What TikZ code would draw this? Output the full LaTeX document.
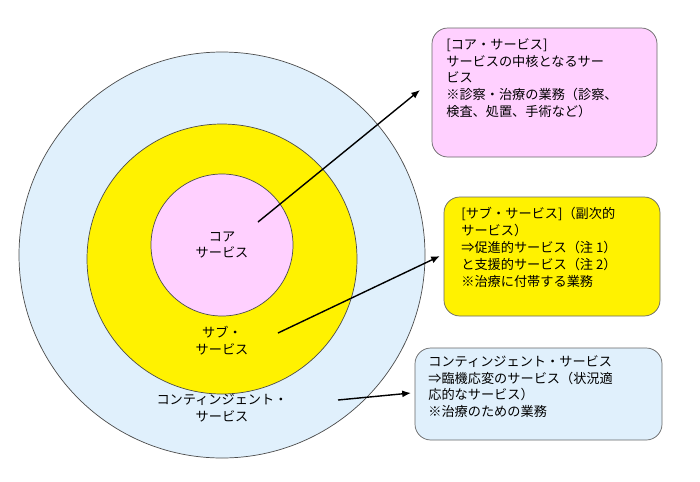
\documentclass[tikz,border=0pt]{standalone}
\usepackage{fontspec}
\newfontfamily\cjk{Noto Sans CJK JP}
\usetikzlibrary{arrows.meta}
\usetikzlibrary{positioning}
\begin{document}
\begin{tikzpicture}[x=0.02cm,y=-0.02cm]
			\tikzset{ring/.style = {draw=black!70, thin}}
			\tikzset{label/.style = {font=\cjk\fontsize{7.5}{9.6}\selectfont, align=center, inner sep=0pt}}
			\tikzset{note/.style = {font=\cjk\fontsize{7.5}{9.6}\selectfont, align=left, anchor=north west, inner sep=0pt}}
			\tikzset{notebox/.style = {draw=black!60, rounded corners=9pt}}
			\tikzset{edge/.style = {-{Latex[length=5pt,width=4pt]}, thick}}
			\useasboundingbox (0,0) rectangle (700,481);
			
			% circles
			\draw[ring, fill={rgb,255:red,224;green,240;blue,252}] (222,255) circle [radius=203];
			\draw[ring, fill=yellow] (222,259) circle [radius=135];
			\draw[ring, fill={rgb,255:red,255;green,208;blue,255}] (222,245) circle [radius=71];
			\node[label] (core) at (222,245) {コア\\サービス};
			\node[label] (sub) at (222,341) {サブ・\\サービス};
			\node[label] (cont) at (222,408) {コンティンジェント・\\サービス};
			
			% boxes
			\draw[notebox, fill={rgb,255:red,255;green,208;blue,255}] (432,28) rectangle (657,157);
			\draw[notebox, fill=yellow] (444,197) rectangle (660,316);
			\draw[notebox, fill={rgb,255:red,224;green,240;blue,252}] (415,348) rectangle (662,440);
			\node[note] (coretext) at (446,38) {[コア・サービス]\\サービスの中核となるサー\\ビス\\※診察・治療の業務（診察、\\検査、処置、手術など）};
			\node[note] (subtext) at (461,207) {[サブ・サービス]（副次的\\サービス）\\⇒促進的サービス（注 1）\\と支援的サービス（注 2）\\※治療に付帯する業務};
			\node[note] (conttext) at (428,355) {コンティンジェント・サービス\\⇒臨機応変のサービス（状況適\\応的なサービス）\\※治療のための業務};
			
			%edges
			\coordinate (coreend) at (420,90);
			\coordinate (subend) at (440,256);
			\coordinate (contend) at (411,393);
			\draw[edge] (258,222) to (coreend);
			\draw[edge] (278,333) to (subend);
			\draw[edge] (338,400) to (contend);
\end{tikzpicture}
\end{document}
